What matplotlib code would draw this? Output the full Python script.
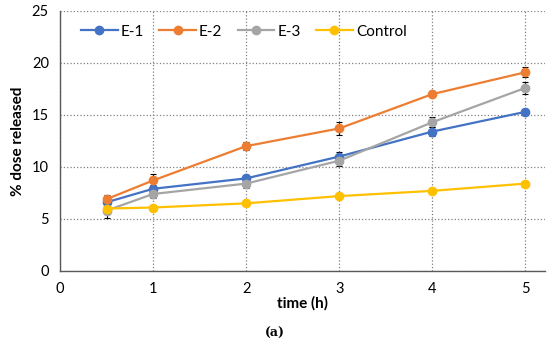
import matplotlib.pyplot as plt

plt.rcParams['font.family'] = ['Lato', 'DejaVu Sans']

time_h = [0.5, 1, 2, 3, 4, 5]
e1 = [6.6, 7.9, 8.9, 11.0, 13.4, 15.3]
e2 = [6.9, 8.7, 12.0, 13.7, 17.0, 19.1]
e3 = [5.8, 7.4, 8.4, 10.6, 14.3, 17.6]
control = [6.0, 6.1, 6.5, 7.2, 7.7, 8.4]
e1_err = [0.3, 0.4, 0.3, 0.4, 0.4, 0.3]
e2_err = [0.4, 0.6, 0.4, 0.6, 0.3, 0.5]
e3_err = [0.7, 0.4, 0.4, 0.5, 0.5, 0.6]
control_err = [0.1, 0.1, 0.1, 0.1, 0.1, 0.1]

series = [
    ('E-1', e1, e1_err, '#4472C4'),
    ('E-2', e2, e2_err, '#ED7D31'),
    ('E-3', e3, e3_err, '#A5A5A5'),
    ('Control', control, control_err, '#FFC000'),
]

fig = plt.figure(figsize=(5.5, 3.51), dpi=100)
ax = fig.add_axes([0.109, 0.228, 0.882, 0.741])

for name, vals, err, col in series:
    ax.errorbar(time_h, vals, yerr=err, fmt='none', ecolor='black',
                elinewidth=0.8, capsize=2.5, capthick=0.8, zorder=2)
    ax.plot(time_h, vals, '-o', color=col, lw=1.6, ms=6, label=name, zorder=3)

ax.set_xlim(0, 5.21)
ax.set_ylim(0, 25)
ax.set_xticks([0, 1, 2, 3, 4, 5])
ax.set_yticks([0, 5, 10, 15, 20, 25])
ax.grid(True, linestyle=':', color='#808080', lw=0.9)
ax.set_axisbelow(True)
for s in ['top', 'right']:
    ax.spines[s].set_visible(False)
for s in ['left', 'bottom']:
    ax.spines[s].set_color('#595959')
    ax.spines[s].set_linewidth(1.0)
ax.tick_params(length=0, labelsize=10.5, pad=8)
ax.set_xlabel('time (h)', fontsize=11, fontweight='bold', labelpad=0)
ax.set_ylabel('% dose released', fontsize=11, fontweight='bold', labelpad=5)

ax.legend(loc='upper left', ncol=4, frameon=False, fontsize=11,
          bbox_to_anchor=(0.015, 1.0), handlelength=2.4, columnspacing=1.0,
          handletextpad=0.2)

fig.text(0.5, 0.05, '(a)', ha='center', va='center', fontsize=9,
         family='DejaVu Serif', fontweight='bold')

fig.savefig('out.png', dpi=100)
